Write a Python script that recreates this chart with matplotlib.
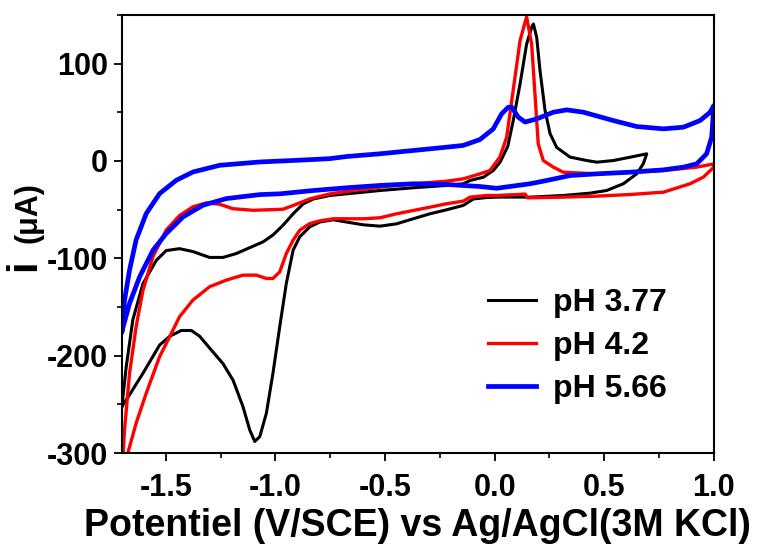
import matplotlib
matplotlib.use("Agg")
import matplotlib.pyplot as plt
from matplotlib.ticker import MultipleLocator

plt.rcParams['font.family'] = ['Liberation Sans', 'DejaVu Sans']
plt.rcParams['font.weight'] = 'bold'
plt.rcParams['axes.unicode_minus'] = False

# pH 3.77 (black) - one closed CV loop, potential in V, current in uA
ph377_v = [-1.700, -1.680, -1.650, -1.604, -1.543, -1.498, -1.437, -1.376, -1.300, -1.239,
           -1.178, -1.117, -1.056, -1.011, -0.965, -0.918, -0.873, -0.827, -0.751, -0.675,
           -0.523, -0.371, -0.219, -0.143, -0.112, -0.051, -0.006, 0.025, 0.060, 0.085,
           0.116, 0.146, 0.170, 0.177, 0.192, 0.207, 0.230, 0.253, 0.283, 0.344,
           0.420, 0.466, 0.542, 0.618, 0.694, 0.678, 0.648, 0.587, 0.511, 0.435,
           0.313, 0.161, 0.025, -0.036, -0.097, -0.143, -0.219, -0.295, -0.371, -0.447,
           -0.523, -0.599, -0.675, -0.736, -0.797, -0.843, -0.889, -0.919, -0.950, -0.980,
           -1.011, -1.041, -1.071, -1.094, -1.117, -1.148, -1.193, -1.239, -1.300, -1.345,
           -1.383, -1.429, -1.482, -1.528, -1.604, -1.665, -1.700]
ph377_i = [-252, -211, -163, -126, -102, -92, -90, -93, -99, -99,
           -95, -89, -83, -76, -66, -54, -44, -39, -35.4, -33.7,
           -30.3, -27.5, -25.1, -23.4, -20, -16.6, -9.7, -1.2, 15, 41.5,
           79, 120, 138, 140.7, 127, 93, 52, 28, 14, 4,
           0.5, -1.2, 0.5, 3.9, 7.4, -2.9, -13.2, -23.4, -30.3, -33,
           -35.4, -37.1, -37, -37.5, -39, -45.6, -50.1, -54.2, -59.3, -64.5,
           -66.9, -65.5, -62.7, -60.3, -62.6, -67.6, -77.9, -91.6, -125.7, -170.1,
           -218, -259, -283, -288, -276, -252, -225, -208, -192, -180,
           -174, -174, -180, -189, -218, -240, -252]

# pH 4.2 (red)
ph42_v = [-1.700, -1.688, -1.665, -1.635, -1.604, -1.558, -1.498, -1.437, -1.376, -1.315,
          -1.254, -1.193, -1.102, -1.020, -0.965, -0.918, -0.842, -0.751, -0.675, -0.523,
          -0.371, -0.219, -0.143, -0.067, -0.021, 0.024, 0.055, 0.093, 0.116, 0.146,
          0.169, 0.184, 0.199, 0.222, 0.268, 0.313, 0.465, 0.618, 0.770, 0.922,
          1.000, 1.000, 0.952, 0.891, 0.770, 0.618, 0.465, 0.313, 0.150, 0.140,
          0.009, -0.036, -0.112, -0.143, -0.219, -0.295, -0.371, -0.447, -0.523, -0.599,
          -0.736, -0.797, -0.843, -0.889, -0.919, -0.950, -0.980, -1.011, -1.041, -1.087,
          -1.148, -1.224, -1.300, -1.376, -1.437, -1.482, -1.528, -1.589, -1.635, -1.673,
          -1.685]
ph42_i = [-325, -276, -218, -170, -133, -98, -71, -56, -47, -43,
          -44.4, -49, -50.6, -50, -49.5, -45.6, -38.8, -33.7, -31.3, -26.8,
          -23.4, -20.7, -18.3, -13.2, -9.7, 4, 24.4, 86, 123.6, 148,
          120, 69, 17.6, 0.5, -6.3, -11.5, -13.2, -11.5, -9.8, -6.3,
          -2.9, -6.3, -16.6, -23.4, -32, -34.4, -36.1, -37.1, -37.8, -34,
          -35.4, -35.4, -37.1, -41.2, -43.9, -47.4, -50.8, -54.2, -58.3, -59.3,
          -59.3, -61.5, -64.2, -71.1, -81.3, -95, -113.8, -120.6, -120.6, -117.2,
          -117.2, -122.3, -129.1, -142.8, -159.9, -180.4, -200.9, -238.5, -269.2, -300,
          -320]

# pH 5.66 (blue)
ph566_v = [-1.700, -1.688, -1.665, -1.635, -1.589, -1.528, -1.452, -1.376, -1.254, -1.071,
           -0.904, -0.752, -0.675, -0.523, -0.371, -0.219, -0.143, -0.067, -0.006, 0.032,
           0.062, 0.078, 0.108, 0.139, 0.192, 0.268, 0.329, 0.405, 0.542, 0.648,
           0.770, 0.861, 0.937, 0.983, 1.000, 0.990, 0.967, 0.922, 0.861, 0.770,
           0.618, 0.465, 0.344, 0.238, 0.161, 0.009, -0.067, -0.219, -0.371, -0.523,
           -0.675, -0.827, -0.979, -1.071, -1.224, -1.330, -1.421, -1.498, -1.558, -1.619,
           -1.665, -1.700]
ph566_i = [-175, -143, -112, -81, -54, -33.5, -19.8, -11.3, -4.4, -1.0,
           0.7, 2.4, 4.6, 7.4, 10.8, 14.2, 16, 22, 33, 48.4,
           55.2, 55.2, 45, 40, 43.2, 50.1, 52.5, 50.1, 41.5, 35.4,
           33, 34.7, 41.5, 50.1, 57, 24.4, 7.4, -2.9, -6.3, -9.1,
           -11.5, -13.2, -14.9, -20, -23.4, -28, -26.2, -24.1, -23.4, -25.1,
           -27.5, -30.3, -33.7, -34.5, -38.6, -45.4, -57.4, -74.5, -91.6, -118.9,
           -146.2, -175]

labels = ['pH 3.77', 'pH 4.2', 'pH 5.66']

fig = plt.figure(figsize=(7.57, 5.52), dpi=100)
ax = fig.add_axes([0.161, 0.179, 0.782, 0.794])

ax.plot(ph377_v, ph377_i, color='black', lw=2.2, label=labels[0])
ax.plot(ph42_v, ph42_i, color='red', lw=2.4, label=labels[1])
ax.plot(ph566_v, ph566_i, color='blue', lw=3.4, label=labels[2])

ax.set_xlim(-1.7, 1.0)
ax.set_ylim(-300, 150)
ax.xaxis.set_major_locator(MultipleLocator(0.5))
ax.xaxis.set_minor_locator(MultipleLocator(0.25))
ax.yaxis.set_major_locator(MultipleLocator(100))
ax.yaxis.set_minor_locator(MultipleLocator(50))
ax.tick_params(which='major', direction='out', length=6, width=1.3, labelsize=22, pad=4)
ax.tick_params(axis='x', which='major', pad=8)
ax.tick_params(which='minor', direction='out', length=3.5, width=1.2)
for sp in ax.spines.values():
    sp.set_linewidth(1.5)

ax.set_xlabel('Potentiel (V/SCE) vs Ag/AgCl(3M KCl)', fontsize=27, fontweight='bold', labelpad=4)
fig.text(0.032, 0.52, 'i', rotation=90, fontsize=30, fontweight='bold', ha='center', va='center')
fig.text(0.038, 0.615, '(μA)', rotation=90, fontsize=22, fontweight='bold', ha='center', va='center')

ax.legend(loc='center left', bbox_to_anchor=(0.618, 0.244), frameon=False, fontsize=23,
          handlelength=1.5, handletextpad=0.55, labelspacing=0.4, borderpad=0, borderaxespad=0)

fig.savefig('out.png', dpi=100)
